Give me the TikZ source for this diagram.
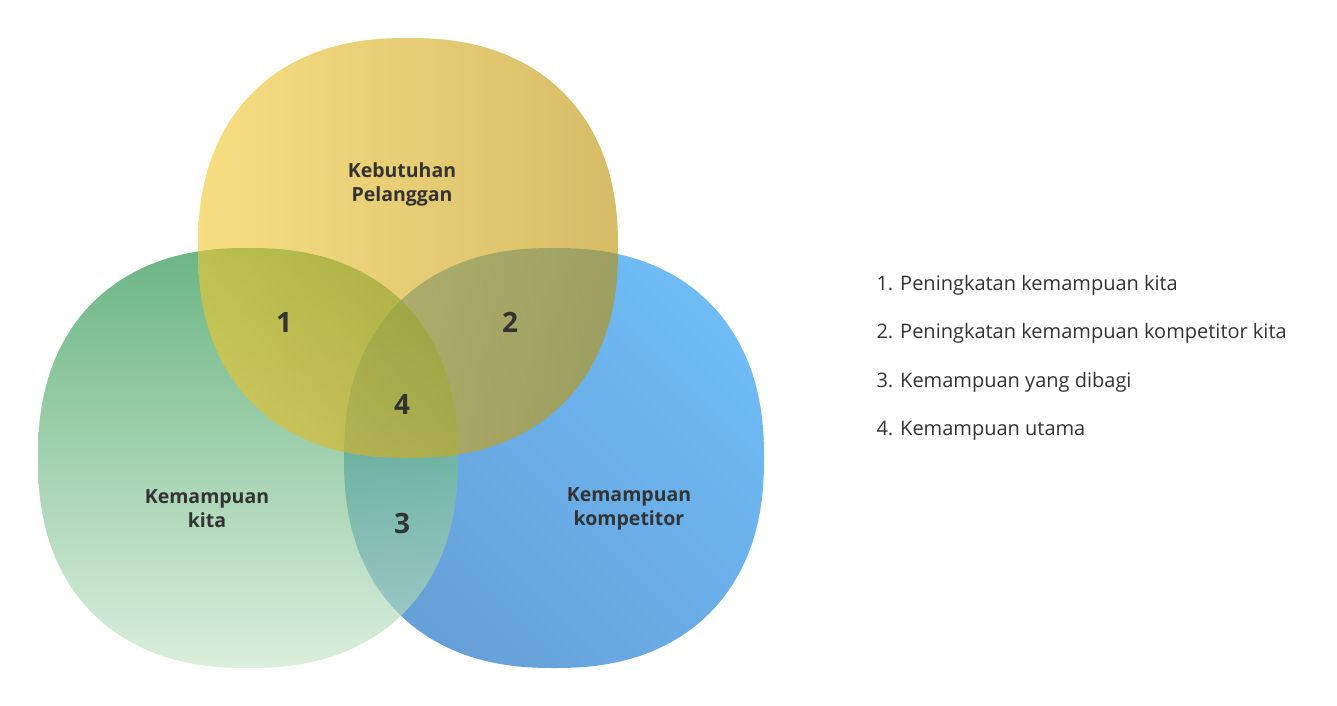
\documentclass[tikz,border=0pt]{standalone}
\usepackage{fontspec}
\setmainfont{Open Sans}
\usetikzlibrary{positioning}

\definecolor{yellowL}{RGB}{242,200,47}
\definecolor{yellowR}{RGB}{187,143,0}
\definecolor{greenT}{RGB}{34,145,72}
\definecolor{greenB}{RGB}{200,230,203}
\definecolor{blueT}{RGB}{110,187,246}
\definecolor{blueB}{RGB}{102,160,216}
\definecolor{textgray}{RGB}{51,51,51}

\begin{document}
\begin{tikzpicture}[x=1pt,y=-1pt,
    yellowfill/.style={left color=yellowL, right color=yellowR, fill opacity=0.6},
    greenfill/.style={top color=greenT, bottom color=greenB, fill opacity=0.67},
    bluefill/.style={top color=blueT, bottom color=blueB, shading angle=-45},
    area/.style={font=\bfseries\fontsize{19.5}{24}\selectfont, text=textgray, align=center},
    num/.style={font=\bfseries\fontsize{28}{30}\selectfont, text=textgray},
    legend/.style={font=\fontsize{20}{24}\selectfont, text=textgray, anchor=west}]
    \useasboundingbox (0,0) rectangle (1337,705);

    % Draw the three sets
    \foreach \cx/\cy/\sty in {554/458/bluefill, 248/458/greenfill, 408/248/yellowfill} {
        \path[\sty] plot[smooth cycle, domain=0:357, samples=120]
            ({\cx + 210*sign(cos(\x))*exp(0.87*ln(max(abs(cos(\x)),0.0001)))},
             {\cy + 210*sign(sin(\x))*exp(0.87*ln(max(abs(sin(\x)),0.0001)))});
    }

    % Set names
    \node[area] (needs) at (402,184) {Kebutuhan\\Pelanggan};
    \node[area] (ours) at (207,509) {Kemampuan\\kita};
    \node[area] (rivals) at (629,509) {Kemampuan\\kompetitor};

    % Overlap numbers
    \foreach \n/\px/\py in {1/284/322, 2/510/322, 3/402/523, 4/402/404} {
        \node[num] (zone\n) at (\px,\py) {\n};
    }

    % Legend
    \node[legend] (item1) at (873,285) {1. Peningkatan kemampuan kita};
    \node[legend] (item2) at (873,333) {2. Peningkatan kemampuan kompetitor kita};
    \node[legend] (item3) at (873,382) {3. Kemampuan yang dibagi};
    \node[legend] (item4) at (873,431) {4. Kemampuan utama};
\end{tikzpicture}
\end{document}
